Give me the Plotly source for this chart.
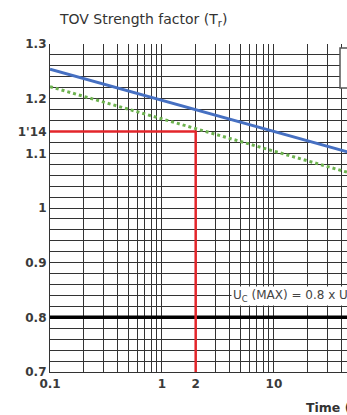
import math
import plotly.graph_objects as go

# ---- data ----
time_blue = [0.1, 1, 10, 100]
tr_blue = [1.254, 1.197, 1.140, 1.083]
time_green = [0.1, 1, 10, 100]
tr_green = [1.222, 1.163, 1.104, 1.045]
ref_time = 2
ref_tr = 1.14
uc_ratio = 0.8
y_min, y_max = 0.7, 1.3
x_min, x_max = 0.1, 44.9

x_grid = [0.1, 0.2, 0.3, 0.4, 0.5, 0.6, 0.7, 0.8, 0.9,
          1, 2, 3, 4, 5, 6, 7, 8, 9, 10, 20, 30, 40]
x_labels = {0.1: "0.1", 1: "1", 2: "2", 10: "10"}
y_grid = [round(0.7 + 0.02 * i, 2) for i in range(31)]
y_labels = {0.7: "0.7", 0.8: "0.8", 0.9: "0.9", 1.0: "1", 1.1: "1.1",
            1.14: "1'14", 1.2: "1.2", 1.3: "1.3"}

fig = go.Figure()
fig.add_trace(go.Scatter(x=[x_min, 100], y=[uc_ratio, uc_ratio], mode="lines",
                         line=dict(color="#000000", width=3.5), showlegend=False))
fig.add_trace(go.Scatter(x=[x_min, ref_time, ref_time], y=[ref_tr, ref_tr, y_min],
                         mode="lines", line=dict(color="#e3262b", width=2.5),
                         showlegend=False))
fig.add_trace(go.Scatter(x=time_green, y=tr_green, mode="lines",
                         line=dict(color="#6db24f", width=3, dash="dot"),
                         showlegend=False))
fig.add_trace(go.Scatter(x=time_blue, y=tr_blue, mode="lines",
                         line=dict(color="#4670c2", width=3), showlegend=False))

W, H = 347, 415
L, T, B = 50, 44, 43
pw, ph = W - L, H - T - B


def px(x):
    return (x - L) / pw


def py(y):
    return (H - B - y) / ph


FONT = "DejaVu Sans, Verdana, sans-serif"
tick_font = dict(size=12, color="#3a3a3a", family=FONT)

fig.update_layout(
    width=W, height=H,
    margin=dict(l=L, r=0, t=T, b=B),
    paper_bgcolor="white", plot_bgcolor="white",
    font=dict(family=FONT, color="#333333"),
    xaxis=dict(type="log", range=[math.log10(x_min), math.log10(x_max)],
               tickmode="array", tickvals=x_grid,
               ticktext=["<b>%s</b>" % x_labels[v] if v in x_labels else " " for v in x_grid],
               showgrid=True, gridcolor="#333333", gridwidth=1,
               showline=True, linecolor="#333333", linewidth=1.2,
               ticks="", zeroline=False, tickfont=tick_font, tickangle=0),
    yaxis=dict(range=[y_min, y_max], tickmode="array", tickvals=y_grid,
               ticktext=["<b>%s</b>" % y_labels[v] if v in y_labels else " " for v in y_grid],
               showgrid=True, gridcolor="#333333", gridwidth=1,
               showline=True, linecolor="#333333", linewidth=1.2,
               ticks="", zeroline=False, tickfont=tick_font),
    annotations=[
        dict(text="TOV Strength factor (T<sub>r</sub>)", xref="paper", yref="paper",
             x=px(57), y=py(20), xanchor="left", yanchor="middle", showarrow=False,
             font=dict(size=14, color="#333333")),
        dict(text="<b>Time (s)</b>", xref="paper", yref="paper",
             x=px(304), y=py(407), xanchor="left", yanchor="middle", showarrow=False,
             font=dict(size=12.5, color="#333333")),
        dict(text="U<sub>C</sub> (MAX) = 0.8 x U<sub>N</sub>", xref="paper", yref="paper",
             x=px(231), y=py(296), xanchor="left", yanchor="middle", showarrow=False,
             bgcolor="white", borderpad=1,
             font=dict(size=12, color="#444444")),
    ],
    shapes=[
        dict(type="rect", xref="paper", yref="paper",
             x0=px(340), x1=px(420), y0=py(88), y1=py(48),
             line=dict(color="#555555", width=1.5), fillcolor="white", layer="above"),
    ],
)

fig.write_html("out.html", config={"displayModeBar": False},
               post_script="document.body.style.margin='0';"
                           "document.body.style.overflow='hidden';")
